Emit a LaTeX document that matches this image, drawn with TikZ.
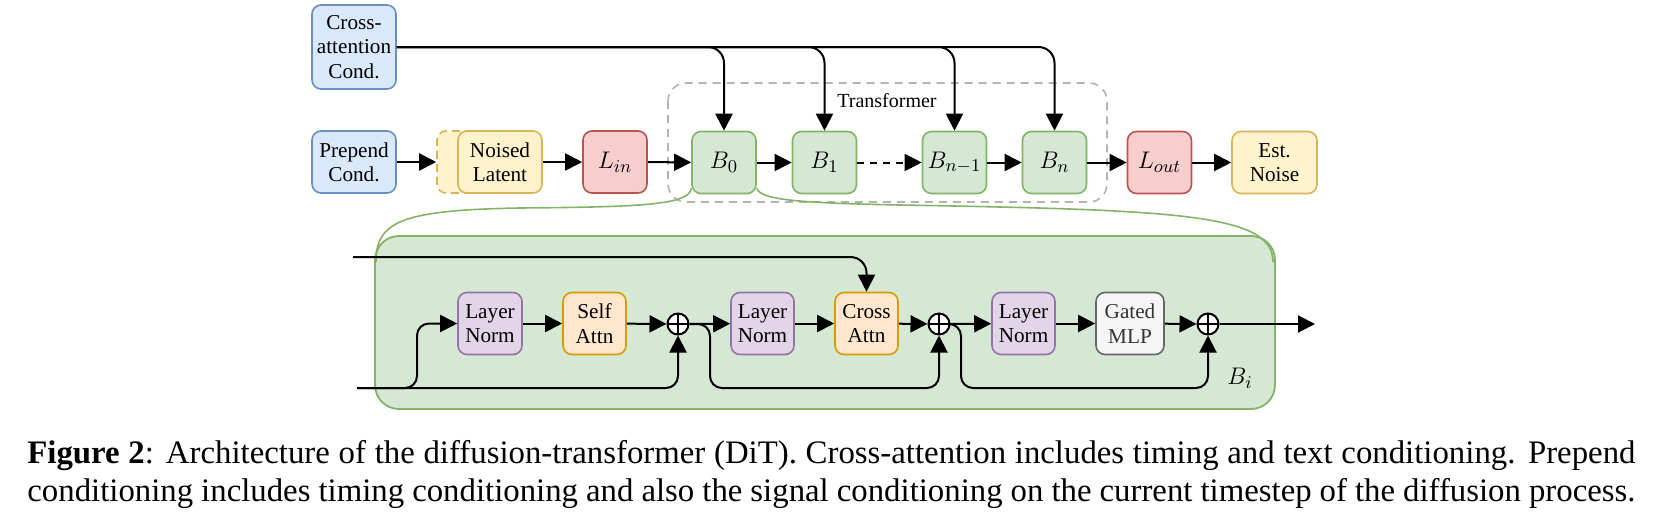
\documentclass[tikz,border=0pt]{standalone}
\usepackage{fontspec}
\setmainfont{Liberation Serif}
\usetikzlibrary{arrows.meta,calc}
\definecolor{bfill}{HTML}{DAE8FC}\definecolor{bdraw}{HTML}{6C8EBF}
\definecolor{yfill}{HTML}{FFF2CC}\definecolor{ydraw}{HTML}{D6B656}
\definecolor{rfill}{HTML}{F8CECC}\definecolor{rdraw}{HTML}{B85450}
\definecolor{gfill}{HTML}{D5E8D4}\definecolor{gdraw}{HTML}{82B366}
\definecolor{pfill}{HTML}{E1D5E7}\definecolor{pdraw}{HTML}{9673A6}
\definecolor{ofill}{HTML}{FFE6CC}\definecolor{odraw}{HTML}{D79B00}
\definecolor{sfill}{HTML}{F5F5F5}\definecolor{sdraw}{HTML}{666666}\definecolor{stext}{HTML}{333333}
\definecolor{trgray}{HTML}{B3B3B3}
\tikzset{
  box/.style={rounded corners=4.5pt, line width=0.8pt, align=center, inner sep=0pt,
    font=\fontsize{10.6}{12.2}\selectfont, minimum height=31pt, minimum width=32pt},
  mathbox/.style={box, font=\fontsize{12.5}{14}\selectfont},
  bluebox/.style={box, fill=bfill, draw=bdraw},
  yelbox/.style={box, fill=yfill, draw=ydraw},
  redbox/.style={mathbox, fill=rfill, draw=rdraw},
  grnbox/.style={mathbox, fill=gfill, draw=gdraw},
  purbox/.style={box, fill=pfill, draw=pdraw},
  orgbox/.style={box, fill=ofill, draw=odraw},
  grybox/.style={box, fill=sfill, draw=sdraw, text=stext},
  conn/.style={line width=1pt, -{Triangle[length=8.5pt,width=8.5pt]}},
  callout/.style={draw=gdraw, line width=0.8pt},
  plus/.style={circle, draw, line width=1pt, fill=white, minimum size=10.5pt, inner sep=0pt,
    path picture={\draw[line width=1pt] (path picture bounding box.north) -- (path picture bounding box.south)
      (path picture bounding box.west) -- (path picture bounding box.east);}},
  captext/.style={anchor=base west, inner sep=0pt, font=\fontsize{16.4}{19}\selectfont},
}
\begin{document}
\begin{tikzpicture}[x=0.5pt,y=-0.5pt]
\useasboundingbox (0,0) rectangle (1659,530);

% transformer frame
\draw[trgray, line width=0.8pt, dash pattern=on 4pt off 3pt, rounded corners=9pt] (668,83) rectangle (1107,202);
\node[font=\fontsize{10}{12}\selectfont, inner sep=0pt] (trl) at (887,101) {Transformer};

% big block
\draw[fill=gfill, draw=gdraw, line width=0.9pt, rounded corners=12pt] (375,236) rectangle (1275,409);

% top row
\node[bluebox, minimum width=42pt, minimum height=42pt] (ca) at (354,47) {Cross-\\attention\\Cond.};
\node[bluebox, minimum width=42pt] (pc) at (354,162) {Prepend\\Cond.};
\node[yelbox, minimum width=42pt, dash pattern=on 4pt off 2.5pt] (nlsh) at (479,162) {};
\node[yelbox, minimum width=42pt] (nl) at (500,162) {Noised\\Latent};
\node[redbox] (lin) at (615,162) {$L_{in}$};
\node[grnbox] (b0) at (724,162.5) {$B_0$};
\node[grnbox] (b1) at (824.5,162.5) {$B_1$};
\node[grnbox] (bn1) at (954.5,162.5) {$B_{n-1}$};
\node[grnbox] (bn) at (1054.5,162.5) {$B_n$};
\node[redbox] (lout) at (1159.5,162.5) {$L_{out}$};
\node[yelbox, minimum width=42.5pt] (est) at (1274.5,162.5) {Est.\\Noise};

\draw[conn] (pc) -- (nlsh);
\draw[conn] (nl) -- (lin);
\draw[conn] (lin) -- (b0);
\draw[conn] (b0) -- (b1);
\draw[conn, dash pattern=on 3.5pt off 3pt] (b1) -- (bn1);
\draw[conn] (bn1) -- (bn);
\draw[conn] (bn) -- (lout);
\draw[conn] (lout) -- (est);
\foreach \n in {b0,b1,bn1,bn}
  \draw[conn, rounded corners=8pt] (ca.east) -| (\n.north);

% callout curves
\draw[callout] (b0.south west) ++(0,-6) .. controls (690,205) and (640,207) .. (520,208)
   .. controls (400,210) and (376,222) .. (376,262);
\draw[callout] (b0.south east) ++(0,-6) .. controls (760,200) and (800,203) .. (900,205)
   .. controls (1180,210) and (1273,214) .. (1273,262);

% bottom row
\node[purbox] (ln1) at (490,323.5) {Layer\\Norm};
\node[orgbox, minimum width=31.5pt] (sa) at (594.5,323.5) {Self\\Attn};
\node[plus] (p1) at (678,324) {};
\node[purbox, minimum width=31.5pt] (ln2) at (762.5,323.5) {Layer\\Norm};
\node[orgbox, minimum width=31.5pt] (ca2) at (866.5,323.5) {Cross\\Attn};
\node[plus] (p2) at (939,324) {};
\node[purbox, minimum width=31.5pt] (ln3) at (1023.5,323.5) {Layer\\Norm};
\node[grybox, minimum width=34pt] (mlp) at (1130,323.5) {Gated\\MLP};
\node[plus] (p3) at (1208,324) {};
\node[font=\fontsize{12.5}{14}\selectfont, inner sep=0pt] (bil) at (1240,378) {$B_i$};

\coordinate (tin) at (353,257);
\coordinate (bin) at (357,388);
\coordinate (outc) at (1315,324);

\draw[conn, rounded corners=8pt] (tin) -| (ca2.north);
\draw[conn] (ln1) -- (sa);
\draw[conn] (sa) -- (p1);
\draw[conn] (p1) -- (ln2);
\draw[conn] (ln2) -- (ca2);
\draw[conn] (ca2) -- (p2);
\draw[conn] (p2) -- (ln3);
\draw[conn] (ln3) -- (mlp);
\draw[conn] (mlp) -- (p3);
\draw[conn] (p3) -- (outc);
\draw[conn, rounded corners=6pt] (bin) -- (417,388) |- (ln1.west);
\draw[conn, rounded corners=6pt] (bin) -| (p1.south);
\draw[conn, rounded corners=6pt] (p1.east) -| (710,388) -| (p2.south);
\draw[conn, rounded corners=6pt] (p2.east) -| (961,388) -| (p3.south);

% caption
\node[captext] (cap1) at (27,463) {\makebox[804pt][s]{\textbf{Figure 2}: Architecture of the diffusion-transformer (DiT). Cross-attention includes timing and text conditioning. Prepend}};
\node[captext] (cap2) at (27,501) {\makebox[804pt][s]{conditioning includes timing conditioning and also the signal conditioning on the current timestep of the diffusion process.}};
\end{tikzpicture}
\end{document}
